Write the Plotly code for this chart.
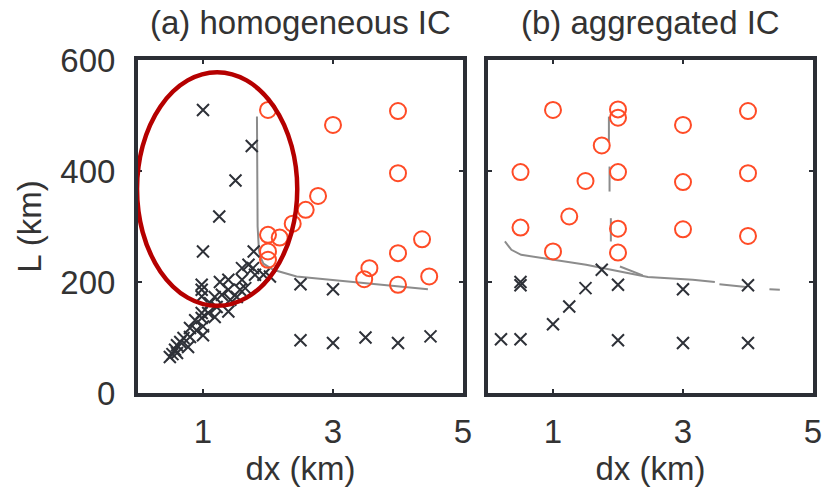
import plotly.graph_objects as go

# ---------------- data ----------------
# (a) homogeneous IC : crosses (non-developing)
a_cross_x = [1.0, 1.75, 1.5, 1.25, 1.0, 1.78, 2.5, 3.0, 2.5, 3.0, 3.5, 4.0, 4.5, 2.03,
             0.98, 0.98, 0.98, 0.98, 0.98, 1.0, 0.8, 0.8, 0.6, 0.6, 0.49, 0.57, 0.77,
             1.18, 1.21, 1.18, 1.0, 1.39, 1.39, 1.42, 1.39, 1.6, 1.6, 1.57, 1.7, 1.77,
             1.8, 1.65, 1.52, 1.26, 1.29, 1.11, 1.08, 0.88, 0.9, 0.7, 1.93, 0.53, 0.65]
a_cross_y = [510, 445, 383, 318, 255, 255, 196, 187, 95, 90, 100, 90, 102, 210,
             195, 186, 174, 144, 135, 120, 117, 101, 86, 72, 65, 78, 83,
             173, 155, 137, 104, 204, 186, 168, 147, 225, 204, 186, 231, 225,
             213, 189, 173, 200, 177, 162, 144, 131, 113, 99, 213, 70, 92]
# (a) circles (developing)
a_circ_x = [2.0, 3.0, 4.0, 4.0, 2.77, 2.58, 2.38, 2.18, 2.0, 2.0, 2.0, 3.56, 3.48, 4.0, 4.0, 4.37, 4.48]
a_circ_y = [510, 483, 508, 396, 355, 330, 305, 280, 285, 255, 240, 225, 205, 252, 195, 277, 210]
# (a) boundary curve
a_line_x = [1.83, 1.83, 1.84, 1.86, 1.88, 1.93, 2.08, 2.44, 2.95, 3.46, 3.97, 4.46]
a_line_y = [498, 400, 300, 258, 246, 233, 222, 210, 204, 198, 192, 187]

# (b) aggregated IC : crosses
b_cross_x = [0.5, 0.5, 1.5, 2.0, 1.75, 3.0, 4.0, 1.25, 1.0, 0.2, 0.5, 2.0, 3.0, 4.0]
b_cross_y = [200, 194, 189, 195, 222, 187, 194, 156, 124, 97, 97, 95, 90, 90]
# (b) circles
b_circ_x = [1.0, 2.0, 2.0, 3.0, 4.0, 1.75, 0.5, 1.5, 2.0, 3.0, 4.0, 1.25, 0.5, 2.0, 3.0, 4.0, 1.0, 2.0]
b_circ_y = [510, 511, 496, 483, 508, 446, 398, 382, 398, 380, 396, 318, 298, 296, 295, 283, 255, 253]
# (b) boundary curve segments (None = gap)
b_line_x = [1.86, 1.86, None, 1.87, 1.87, None, 1.89, 1.89, None,
            0.26, 0.36, 0.51, 1.0, 1.51, 2.03, 2.46, 3.15, 3.49, None,
            3.56, 3.97, None, 4.33, 4.49, None, 2.03, 2.38]
b_line_y = [498, 453, None, 408, 363, None, 315, 273, None,
            273, 258, 249, 240, 231, 219, 209, 204, 200, None,
            196, 191, None, 187, 186, None, 228, 212]

x_ticks = [1, 3, 5]
y_ticks = [0, 200, 400, 600]
titles = ["(a) homogeneous IC", "(b) aggregated IC"]

# ---------------- style ----------------
CROSS = "#2e3138"
CIRC = "#ff4b26"
LINEC = "#8c8c8c"
FRAME = "#2b2e35"
TXT = "#333333"
FONT = "Liberation Sans"
FS = 33

fig = go.Figure()

def add_panel(cx, cy, ox, oy, lx, ly, xa, ya):
    fig.add_trace(go.Scatter(x=lx, y=ly, mode="lines", xaxis=xa, yaxis=ya,
                             line=dict(color=LINEC, width=2), connectgaps=False,
                             showlegend=False, hoverinfo="skip"))
    fig.add_trace(go.Scatter(x=cx, y=cy, mode="markers", xaxis=xa, yaxis=ya,
                             marker=dict(symbol="x-thin-open", size=12,
                                         line=dict(color=CROSS, width=2), color=CROSS),
                             showlegend=False, cliponaxis=False))
    fig.add_trace(go.Scatter(x=ox, y=oy, mode="markers", xaxis=xa, yaxis=ya,
                             marker=dict(symbol="circle-open", size=16, color=CIRC,
                                         line=dict(color=CIRC, width=2)),
                             showlegend=False, cliponaxis=False))

add_panel(a_cross_x, a_cross_y, a_circ_x, a_circ_y, a_line_x, a_line_y, "x", "y")
add_panel(b_cross_x, b_cross_y, b_circ_x, b_circ_y, b_line_x, b_line_y, "x2", "y2")

axis_common = dict(showline=True, linewidth=4, linecolor=FRAME, mirror="ticks",
                   ticks="inside", ticklen=4, tickwidth=2, tickcolor=FRAME,
                   showgrid=False, zeroline=False, automargin=False,
                   tickfont=dict(family=FONT, size=FS, color=TXT))

w_total = 825 - 138 - 12
d1 = 325 / w_total
d2 = 350 / w_total

fig.update_layout(
    width=825, height=498,
    margin=dict(l=138, r=12, t=60, b=105, autoexpand=False),
    plot_bgcolor="white", paper_bgcolor="white",
    font=dict(family=FONT, size=FS, color=TXT),
    xaxis=dict(domain=[0, d1], range=[0, 5], tickvals=x_ticks, anchor="y",
               title=dict(text="dx (km)", font=dict(family=FONT, size=FS, color=TXT), standoff=0),
               ticklabelstandoff=6, **axis_common),
    yaxis=dict(domain=[0, 1], range=[0, 600], tickvals=y_ticks, anchor="x",
               title=dict(text="L (km)", font=dict(family=FONT, size=FS, color=TXT), standoff=10),
               ticklabelstandoff=12, **axis_common),
    xaxis2=dict(domain=[d2, 1], range=[0, 5], tickvals=x_ticks, anchor="y2",
                title=dict(text="dx (km)", font=dict(family=FONT, size=FS, color=TXT), standoff=0),
                ticklabelstandoff=6, **axis_common),
    yaxis2=dict(domain=[0, 1], range=[0, 600], tickvals=y_ticks, anchor="x2",
                showticklabels=False, **axis_common),
)

for i, t in enumerate(titles):
    cx = (d1 / 2) if i == 0 else (d2 + 1) / 2
    fig.add_annotation(text=t, x=cx, y=(393 - 23) / 333, xref="paper", yref="paper",
                       showarrow=False, xanchor="center", yanchor="middle",
                       font=dict(family=FONT, size=FS, color=TXT))

# highlight ellipse around the left cluster
fig.add_shape(type="circle", xref="x", yref="y", x0=-0.015, x1=2.45, y0=157, y1=578,
              line=dict(color="#b50000", width=4.5), layer="above")

fig.write_html("out.html")
